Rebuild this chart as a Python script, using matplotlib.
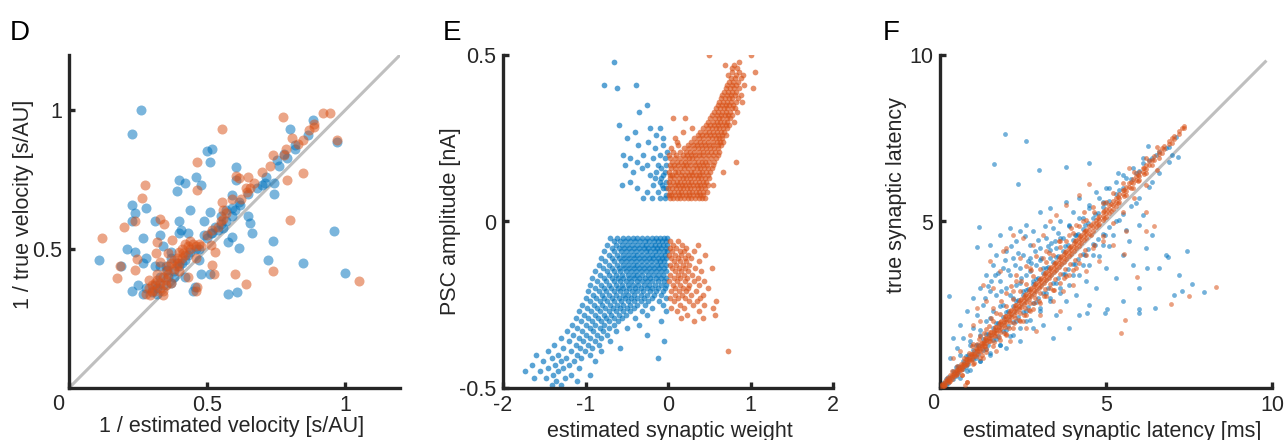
import numpy as np
import matplotlib
matplotlib.use('Agg')
import matplotlib.pyplot as plt

plt.rcParams['font.family'] = ['Liberation Sans', 'DejaVu Sans']

BLUE = '#0072BD'
ORANGE = '#D95319'
GREY = '#BFBFBF'
DARK = '#262626'

# ---- panel D : (1/estimated velocity, 1/true velocity)
d_blue = [
    (0.26, 1.00), (0.23, 0.915), (0.11, 0.46), (0.19, 0.44), (0.21, 0.50), (0.23, 0.66),
    (0.24, 0.63), (0.23, 0.60), (0.28, 0.65), (0.27, 0.54), (0.31, 0.60), (0.34, 0.51),
    (0.33, 0.55), (0.24, 0.49), (0.27, 0.45), (0.23, 0.35), (0.27, 0.34), (0.25, 0.37),
    (0.28, 0.47), (0.33, 0.44), (0.37, 0.49), (0.40, 0.56), (0.40, 0.60), (0.39, 0.71),
    (0.40, 0.75), (0.42, 0.74), (0.44, 0.64), (0.47, 0.46), (0.48, 0.73), (0.46, 0.76),
    (0.50, 0.855), (0.52, 0.86), (0.51, 0.815), (0.49, 0.60), (0.51, 0.635), (0.49, 0.55),
    (0.51, 0.41), (0.48, 0.41), (0.45, 0.35), (0.37, 0.38), (0.38, 0.40), (0.575, 0.34),
    (0.61, 0.345), (0.615, 0.505), (0.575, 0.525), (0.59, 0.545), (0.605, 0.795), (0.605, 0.75),
    (0.615, 0.67), (0.59, 0.695), (0.59, 0.65), (0.65, 0.62), (0.655, 0.595), (0.665, 0.56),
    (0.70, 0.73), (0.715, 0.76), (0.745, 0.74), (0.745, 0.70), (0.74, 0.53), (0.72, 0.46),
    (0.755, 0.82), (0.78, 0.845), (0.80, 0.935), (0.82, 0.875), (0.865, 0.91), (0.885, 0.965),
    (0.97, 0.885), (0.96, 0.565), (0.85, 0.45), (1.00, 0.415), (0.55, 0.62), (0.56, 0.575),
    (0.54, 0.57), (0.515, 0.56), (0.43, 0.56), (0.405, 0.57), (0.31, 0.44), (0.455, 0.365),
    (0.41, 0.45), (0.355, 0.425), (0.32, 0.34), (0.42, 0.40), (0.36, 0.40), (0.38, 0.42),
    (0.40, 0.44), (0.43, 0.48), (0.46, 0.50), (0.50, 0.54), (0.52, 0.56), (0.55, 0.59),
    (0.57, 0.60), (0.59, 0.62), (0.60, 0.64), (0.62, 0.66), (0.65, 0.70), (0.68, 0.72),
    (0.71, 0.74), (0.76, 0.80), (0.79, 0.83), (0.82, 0.86), (0.34, 0.37), (0.32, 0.36),
    (0.30, 0.345), (0.33, 0.40), (0.35, 0.44), (0.37, 0.47), (0.39, 0.45), (0.31, 0.37),
    (0.28, 0.36), (0.42, 0.46), (0.44, 0.49), (0.47, 0.50), (0.53, 0.58), (0.57, 0.64),
]
d_orange = [
    (0.12, 0.54), (0.175, 0.395), (0.185, 0.44), (0.20, 0.58), (0.24, 0.60), (0.265, 0.685),
    (0.275, 0.73), (0.24, 0.425), (0.245, 0.465), (0.32, 0.525), (0.33, 0.61), (0.345, 0.59),
    (0.315, 0.485), (0.33, 0.455), (0.465, 0.815), (0.465, 0.715), (0.46, 0.47), (0.465, 0.365),
    (0.555, 0.935), (0.555, 0.67), (0.56, 0.64), (0.605, 0.765), (0.615, 0.755), (0.65, 0.76),
    (0.655, 0.72), (0.625, 0.68), (0.645, 0.705), (0.74, 0.84), (0.73, 0.80), (0.775, 0.975),
    (0.785, 0.86), (0.79, 0.75), (0.80, 0.605), (0.81, 0.90), (0.85, 0.775), (0.85, 0.895),
    (0.89, 0.95), (0.92, 0.99), (0.945, 0.99), (0.97, 0.895), (1.05, 0.385), (0.74, 0.42),
    (0.64, 0.375), (0.60, 0.41), (0.52, 0.445), (0.525, 0.41), (0.53, 0.49), (0.515, 0.515),
    (0.375, 0.535), (0.36, 0.485), (0.415, 0.485), (0.43, 0.40), (0.46, 0.35), (0.34, 0.335),
    (0.295, 0.335), (0.29, 0.36), (0.30, 0.37), (0.31, 0.38), (0.30, 0.35), (0.32, 0.39),
    (0.33, 0.36), (0.31, 0.35), (0.32, 0.41), (0.34, 0.40), (0.35, 0.42), (0.36, 0.41),
    (0.36, 0.44), (0.37, 0.45), (0.38, 0.46), (0.39, 0.47), (0.40, 0.49), (0.41, 0.50),
    (0.42, 0.52), (0.43, 0.51), (0.44, 0.53), (0.45, 0.52), (0.46, 0.51), (0.47, 0.52),
    (0.48, 0.51), (0.42, 0.48), (0.40, 0.45), (0.38, 0.43), (0.33, 0.38), (0.34, 0.35),
    (0.29, 0.39), (0.35, 0.39), (0.39, 0.44), (0.44, 0.50), (0.41, 0.47), (0.52, 0.57),
    (0.54, 0.58), (0.55, 0.60), (0.56, 0.61), (0.50, 0.55), (0.57, 0.63), (0.59, 0.68),
    (0.64, 0.72), (0.67, 0.74), (0.70, 0.78), (0.78, 0.84), (0.83, 0.88), (0.87, 0.93),
    (0.89, 0.94), (0.37, 0.38), (0.40, 0.42), (0.28, 0.34), (0.35, 0.37),
]

# ---- panel E : rows of (PSC amplitude, [estimated weights])
e_orange_up_rows = [
    (0.07, [0.02, 0.06, 0.11, 0.15, 0.19, 0.24, 0.28, 0.33, 0.37, 0.41, 0.45]),
    (0.08, [0.01, 0.04, 0.09, 0.13, 0.17, 0.22, 0.26, 0.30, 0.35, 0.39, 0.43]),
    (0.09, [0.03, 0.07, 0.12, 0.16, 0.20, 0.25, 0.29, 0.34, 0.38, 0.42, 0.47]),
    (0.10, [0.00, 0.05, 0.10, 0.14, 0.18, 0.23, 0.27, 0.32, 0.36, 0.40, 0.45]),
    (0.11, [0.02, 0.08, 0.12, 0.17, 0.21, 0.26, 0.30, 0.35, 0.39, 0.44, 0.48]),
    (0.12, [0.01, 0.06, 0.11, 0.15, 0.19, 0.24, 0.28, 0.33, 0.37, 0.42, 0.46]),
    (0.13, [0.03, 0.07, 0.13, 0.18, 0.22, 0.27, 0.31, 0.36, 0.40, 0.45, 0.50]),
    (0.14, [0.02, 0.05, 0.10, 0.16, 0.20, 0.25, 0.29, 0.34, 0.38, 0.43, 0.48]),
    (0.15, [0.01, 0.08, 0.12, 0.17, 0.23, 0.28, 0.32, 0.37, 0.41, 0.46, 0.51]),
    (0.16, [0.04, 0.09, 0.14, 0.19, 0.24, 0.30, 0.35, 0.39, 0.44, 0.49, 0.53]),
    (0.17, [0.02, 0.07, 0.12, 0.18, 0.22, 0.27, 0.33, 0.38, 0.42, 0.47, 0.55]),
    (0.18, [0.05, 0.11, 0.16, 0.21, 0.26, 0.31, 0.36, 0.41, 0.45, 0.50, 0.56]),
    (0.19, [0.03, 0.09, 0.15, 0.20, 0.25, 0.29, 0.34, 0.40, 0.46, 0.52, 0.58]),
    (0.20, [0.01, 0.10, 0.18, 0.23, 0.28, 0.33, 0.38, 0.43, 0.48, 0.54, 0.60]),
    (0.21, [0.06, 0.14, 0.22, 0.27, 0.32, 0.37, 0.42, 0.47, 0.52, 0.57, 0.62]),
    (0.22, [0.04, 0.19, 0.26, 0.31, 0.36, 0.41, 0.46, 0.51, 0.56, 0.61]),
    (0.23, [0.12, 0.24, 0.30, 0.35, 0.40, 0.45, 0.50, 0.55, 0.60, 0.64]),
    (0.24, [0.28, 0.34, 0.39, 0.44, 0.49, 0.54, 0.59, 0.63, 0.67, 0.11]),
    (0.25, [0.09, 0.31, 0.38, 0.43, 0.48, 0.53, 0.58, 0.62, 0.66]),
    (0.26, [0.36, 0.41, 0.46, 0.51, 0.56, 0.61, 0.65, 0.70]),
    (0.27, [0.18, 0.39, 0.45, 0.50, 0.55, 0.59, 0.64, 0.68]),
    (0.28, [0.29, 0.43, 0.48, 0.53, 0.58, 0.62, 0.67, 0.71]),
    (0.29, [0.46, 0.51, 0.56, 0.61, 0.65, 0.70, 0.74]),
    (0.30, [0.48, 0.54, 0.59, 0.63, 0.68, 0.72, 0.80]),
    (0.31, [0.21, 0.06, 0.51, 0.57, 0.62, 0.66, 0.71, 0.75]),
    (0.32, [0.53, 0.59, 0.64, 0.69, 0.73, 0.78]),
    (0.33, [0.56, 0.61, 0.66, 0.70, 0.75, 0.84]),
    (0.34, [0.58, 0.63, 0.68, 0.72, 0.77, 0.81]),
    (0.35, [0.60, 0.65, 0.70, 0.74, 0.79]),
    (0.36, [0.62, 0.67, 0.72, 0.76, 0.82, 0.90]),
    (0.37, [0.64, 0.69, 0.74, 0.78, 0.85]),
    (0.38, [0.66, 0.71, 0.76, 0.81, 0.88]),
    (0.39, [0.68, 0.73, 0.78, 0.83]),
    (0.40, [0.70, 0.75, 0.80, 0.86, 1.03]),
    (0.41, [0.72, 0.77, 0.82, 0.92]),
    (0.42, [0.74, 0.79, 0.85]),
    (0.43, [0.76, 0.81, 0.88]),
    (0.44, [0.73, 0.83, 0.91]),
    (0.45, [0.78, 0.86, 1.05]),
    (0.46, [0.77, 0.84]),
    (0.47, [0.69, 0.80]),
    (0.48, [0.86]),
    (0.50, [0.50, 1.01]),
    (0.18, [0.83]),
    (0.15, [0.67]),
    (0.11, [0.55]),
]
e_blue_up = [
    (-0.65, 0.48), (-0.78, 0.41), (-0.62, 0.40), (-0.39, 0.41), (-0.26, 0.35), (-0.35, 0.33),
    (-0.60, 0.29), (-0.50, 0.25), (-0.40, 0.27), (-0.22, 0.28), (-0.10, 0.28), (-0.14, 0.26),
    (-0.06, 0.25), (-0.54, 0.20), (-0.46, 0.19), (-0.38, 0.18), (-0.30, 0.20), (-0.26, 0.17),
    (-0.18, 0.19), (-0.10, 0.20), (-0.04, 0.19), (-0.52, 0.17), (-0.42, 0.15), (-0.32, 0.16),
    (-0.22, 0.14), (-0.14, 0.15), (-0.06, 0.14), (-0.02, 0.12), (-0.10, 0.12), (-0.18, 0.11),
    (-0.26, 0.09), (-0.20, 0.07), (-0.12, 0.09), (-0.06, 0.10), (-0.04, 0.07), (-0.30, 0.07),
    (-0.38, 0.10), (-0.46, 0.12), (-0.56, 0.11), (-0.10, 0.07), (-0.02, 0.08), (-0.08, 0.16),
    (-0.02, 0.17), (-0.16, 0.22), (-0.24, 0.24), (-0.36, 0.23), (-0.06, 0.23), (-0.01, 0.21),
    (-0.08, 0.13), (-0.04, 0.15), (-0.12, 0.17), (-0.16, 0.13), (-0.03, 0.10), (-0.07, 0.11),
]
e_blue_low_rows = [
    (-0.05, [-0.70, -0.62, -0.55, -0.49, -0.43, -0.37, -0.31, -0.26, -0.20, -0.15, -0.10, -0.05, -0.01]),
    (-0.06, [-0.66, -0.58, -0.52, -0.46, -0.40, -0.34, -0.28, -0.23, -0.17, -0.12, -0.07, -0.02]),
    (-0.07, [-0.74, -0.63, -0.56, -0.50, -0.44, -0.38, -0.32, -0.27, -0.21, -0.16, -0.11, -0.06, -0.01]),
    (-0.08, [-0.68, -0.60, -0.53, -0.47, -0.41, -0.35, -0.29, -0.24, -0.18, -0.13, -0.08, -0.03]),
    (-0.09, [-0.78, -0.65, -0.57, -0.51, -0.45, -0.39, -0.33, -0.27, -0.22, -0.16, -0.11, -0.05, -0.01]),
    (-0.10, [-0.72, -0.62, -0.55, -0.49, -0.43, -0.37, -0.31, -0.25, -0.20, -0.14, -0.09, -0.04]),
    (-0.11, [-0.81, -0.68, -0.59, -0.53, -0.47, -0.41, -0.35, -0.29, -0.23, -0.18, -0.12, -0.07, -0.02]),
    (-0.12, [-0.76, -0.65, -0.57, -0.51, -0.45, -0.39, -0.33, -0.27, -0.21, -0.15, -0.10, -0.05]),
    (-0.13, [-0.84, -0.71, -0.62, -0.55, -0.49, -0.43, -0.37, -0.31, -0.25, -0.19, -0.13, -0.08, -0.02]),
    (-0.14, [-0.79, -0.68, -0.60, -0.53, -0.47, -0.41, -0.35, -0.29, -0.23, -0.17, -0.11, -0.05]),
    (-0.15, [-0.88, -0.74, -0.65, -0.58, -0.51, -0.45, -0.39, -0.33, -0.27, -0.21, -0.14, -0.08, -0.02]),
    (-0.16, [-0.83, -0.71, -0.63, -0.56, -0.49, -0.43, -0.37, -0.31, -0.24, -0.18, -0.12, -0.06]),
    (-0.17, [-0.92, -0.78, -0.68, -0.61, -0.54, -0.47, -0.41, -0.35, -0.28, -0.22, -0.15, -0.09, -0.03]),
    (-0.18, [-0.86, -0.75, -0.66, -0.58, -0.51, -0.45, -0.38, -0.32, -0.26, -0.19, -0.12, -0.05]),
    (-0.19, [-0.95, -0.81, -0.72, -0.63, -0.56, -0.49, -0.43, -0.36, -0.29, -0.23, -0.16, -0.09, -0.02]),
    (-0.20, [-0.89, -0.78, -0.69, -0.61, -0.54, -0.47, -0.40, -0.33, -0.26, -0.19, -0.12, -0.04]),
    (-0.21, [-0.97, -0.84, -0.75, -0.66, -0.58, -0.51, -0.44, -0.37, -0.30, -0.22, -0.14, -0.06]),
    (-0.22, [-0.91, -0.80, -0.71, -0.63, -0.55, -0.48, -0.41, -0.33, -0.25, -0.17, -0.08]),
    (-0.23, [-1.00, -0.87, -0.77, -0.68, -0.60, -0.52, -0.45, -0.37, -0.29, -0.20, -0.03]),
    (-0.24, [-0.94, -0.83, -0.74, -0.65, -0.57, -0.49, -0.41, -0.33, -0.24, -0.11]),
    (-0.25, [-1.04, -0.90, -0.80, -0.70, -0.62, -0.54, -0.46, -0.37, -0.28, -0.06]),
    (-0.26, [-0.98, -0.86, -0.76, -0.67, -0.58, -0.50, -0.41, -0.19]),
    (-0.27, [-1.08, -0.93, -0.82, -0.72, -0.63, -0.55, -0.46, -0.32, -0.02]),
    (-0.28, [-1.02, -0.89, -0.78, -0.69, -0.60, -0.51, -0.25]),
    (-0.29, [-1.12, -0.97, -0.85, -0.75, -0.65, -0.56, -0.40]),
    (-0.30, [-1.06, -0.92, -0.81, -0.71, -0.61, -0.08]),
    (-0.31, [-1.16, -1.00, -0.88, -0.77, -0.66, -0.35]),
    (-0.32, [-1.10, -0.95, -0.83, -0.72, -0.50]),
    (-0.33, [-1.22, -1.04, -0.91, -0.79, -0.63]),
    (-0.34, [-1.15, -0.99, -0.86, -0.74, -0.25]),
    (-0.35, [-1.30, -1.08, -0.94, -0.81]),
    (-0.36, [-1.20, -1.03, -0.89, -0.70, -0.05]),
    (-0.37, [-1.38, -1.12, -0.97, -0.84]),
    (-0.38, [-1.27, -1.07, -0.92, -0.58]),
    (-0.39, [-1.45, -1.18, -1.01, -0.81]),
    (-0.40, [-1.60, -1.33, -1.10, -0.95]),
    (-0.41, [-1.41, -1.24, -1.05, -0.12]),
    (-0.42, [-1.52, -1.30, -1.14, -0.89]),
    (-0.43, [-1.65, -1.37, -1.20]),
    (-0.44, [-1.46, -1.27, -1.08]),
    (-0.45, [-1.73, -1.55, -1.33]),
    (-0.46, [-1.40, -1.17, -0.95]),
    (-0.47, [-1.62, -1.48, -1.25]),
    (-0.48, [-1.36, -1.10]),
    (-0.49, [-1.41, -1.30]),
]
e_orange_low_rows = [
    (-0.06, [0.03, 0.12]),
    (-0.07, [0.06, 0.17, 0.36]),
    (-0.08, [0.02, 0.10, 0.22]),
    (-0.09, [0.05, 0.14, 0.19, 0.31]),
    (-0.10, [0.01, 0.08, 0.16, 0.24, 0.45]),
    (-0.11, [0.04, 0.12, 0.20, 0.28]),
    (-0.12, [0.07, 0.15, 0.22, 0.37]),
    (-0.13, [0.02, 0.10, 0.18, 0.26]),
    (-0.14, [0.05, 0.13, 0.21, 0.33, 0.53]),
    (-0.15, [0.09, 0.16, 0.24, 0.40]),
    (-0.16, [0.03, 0.12, 0.19, 0.29]),
    (-0.17, [0.07, 0.15, 0.23, 0.36]),
    (-0.18, [0.01, 0.11, 0.20, 0.31, 0.44]),
    (-0.19, [0.06, 0.14, 0.26, 0.38]),
    (-0.20, [0.09, 0.18, 0.24, 0.49]),
    (-0.21, [0.04, 0.13, 0.22, 0.34]),
    (-0.22, [0.08, 0.17, 0.28, 0.42]),
    (-0.23, [0.02, 0.12, 0.21, 0.39]),
    (-0.24, [0.07, 0.26, 0.35, 0.58]),
    (-0.25, [0.15, 0.30, 0.44]),
    (-0.26, [0.04, 0.19, 0.55]),
    (-0.27, [0.11, 0.37]),
    (-0.28, [0.23, 0.57]),
    (-0.29, [0.16, 0.43]),
    (-0.30, [0.32]),
    (-0.39, [0.73]),
]

# ---- panel F : columns of (estimated latency, [true latencies]) + scattered points
f_orange_cols = [
    (0.05, [0.03, 0.08, 0.12]), (0.12, [0.10, 0.16, 0.05]), (0.20, [0.17, 0.24, 0.30]),
    (0.28, [0.25, 0.31, 0.19]), (0.35, [0.33, 0.40, 0.28, 0.52]), (0.43, [0.41, 0.47, 0.36]),
    (0.50, [0.49, 0.55, 0.43, 0.66]), (0.58, [0.56, 0.62, 0.51]), (0.65, [0.64, 0.70, 0.58, 0.38]),
    (0.72, [0.71, 0.78, 0.65, 0.90]), (0.80, [0.79, 0.86, 0.73, 0.18]), (0.88, [0.87, 0.94, 0.80, 1.05]),
    (0.95, [0.95, 1.02, 0.88, 1.25]), (1.03, [1.03, 1.10, 0.96, 0.75]), (1.10, [1.10, 1.18, 1.03, 1.32]),
    (1.18, [1.19, 1.26, 1.11, 1.48]), (1.25, [1.27, 1.34, 1.19, 0.98]), (1.33, [1.35, 1.42, 1.27, 1.65]),
    (1.40, [1.43, 1.50, 1.34, 1.18]), (1.48, [1.51, 1.58, 1.42, 1.86]), (1.55, [1.59, 1.67, 1.50, 2.10]),
    (1.63, [1.67, 1.75, 1.58, 1.38]), (1.70, [1.75, 1.83, 1.66, 2.25]), (1.78, [1.83, 1.92, 1.74, 1.52]),
    (1.85, [1.91, 2.00, 1.81, 2.60]), (1.93, [1.99, 2.08, 1.89, 1.65]), (2.00, [2.07, 2.16, 1.97, 2.85]),
    (2.08, [2.15, 2.25, 2.05, 1.80]), (2.15, [2.23, 2.33, 2.12, 3.05]), (2.23, [2.31, 2.41, 2.20, 1.95]),
    (2.30, [2.39, 2.50, 2.28, 3.40]), (2.38, [2.47, 2.58, 2.36, 2.05]), (2.45, [2.55, 2.66, 2.44, 3.20]),
    (2.53, [2.63, 2.74, 2.51, 2.20]), (2.60, [2.71, 2.83, 2.59, 3.65]), (2.68, [2.79, 2.91, 2.67, 2.35]),
    (2.75, [2.87, 2.99, 2.75, 3.55]), (2.83, [2.95, 3.07, 2.83, 2.55]), (2.90, [3.03, 3.15, 2.91, 3.95]),
    (2.98, [3.11, 3.23, 2.99, 2.60]), (3.05, [3.19, 3.31, 3.07]), (3.13, [3.27, 3.39, 3.15, 2.75]),
    (3.20, [3.35, 3.47, 3.23]), (3.28, [3.43, 3.55, 3.31, 4.05]), (3.35, [3.51, 3.63, 3.39]),
    (3.43, [3.59, 3.71, 3.47, 2.95]), (3.50, [3.67, 3.79, 3.55]), (3.58, [3.75, 3.87, 3.63, 4.40]),
    (3.65, [3.83, 3.95, 3.71]), (3.73, [3.91, 4.03, 3.79, 3.30]), (3.80, [3.99, 4.11, 3.87]),
    (3.88, [4.07, 4.19, 3.95]), (3.95, [4.15, 4.27, 4.03, 4.80]), (4.03, [4.23, 4.35, 4.11]),
    (4.10, [4.31, 4.43, 4.19, 3.60]), (4.18, [4.39, 4.51, 4.27]), (4.25, [4.47, 4.59, 4.35]),
    (4.33, [4.55, 4.67, 4.43, 5.30]), (4.40, [4.63, 4.75, 4.51]), (4.50, [4.73, 4.85, 4.62]),
    (4.60, [4.84, 4.96, 4.72, 5.45]), (4.70, [4.94, 5.06, 4.83]), (4.80, [5.05, 5.17, 4.93]),
    (4.90, [5.16, 5.28, 5.04]), (5.00, [5.27, 5.39, 5.15, 5.60]), (5.10, [5.38, 5.50, 5.26]),
    (5.20, [5.49, 5.61, 5.37]), (5.30, [5.60, 5.72, 5.48]), (5.40, [5.71, 5.83, 5.59]),
    (5.50, [5.82, 5.94]), (5.60, [5.93, 6.05, 5.80]), (5.70, [6.04, 6.16]),
    (5.80, [6.15, 6.27, 6.02]), (5.90, [6.26, 6.38]), (6.00, [6.37, 6.49, 6.25]),
    (6.10, [6.48, 6.60]), (6.20, [6.59, 6.71, 6.46]), (6.30, [6.70, 6.82]),
    (6.45, [6.86, 6.98]), (6.60, [7.02, 7.12, 6.90]), (6.75, [7.18, 7.28]),
    (6.90, [7.33, 7.42]), (7.05, [7.48, 7.56]), (7.20, [7.64, 7.72]), (7.35, [7.80, 7.88]),
    # second pass over the band, between the columns above
    (0.16, [0.22, 0.09]), (0.31, [0.38, 0.22]), (0.47, [0.55, 0.39]), (0.62, [0.71, 0.53]),
    (0.77, [0.87, 0.68]), (0.92, [1.03, 0.83]), (1.07, [1.19, 0.97]), (1.22, [1.35, 1.12]),
    (1.37, [1.51, 1.26]), (1.52, [1.67, 1.40]), (1.67, [1.83, 1.55]), (1.82, [1.99, 1.69]),
    (1.97, [2.15, 1.83]), (2.12, [2.32, 1.97]), (2.27, [2.48, 2.11]), (2.42, [2.64, 2.26]),
    (2.57, [2.80, 2.40]), (2.72, [2.96, 2.55]), (2.87, [3.12, 2.69]), (3.02, [3.28, 2.84]),
    (3.17, [3.44, 2.98]), (3.32, [3.60, 3.13]), (3.47, [3.76, 3.27]), (3.62, [3.92, 3.42]),
    (3.77, [4.08, 3.56]), (3.92, [4.24, 3.71]), (4.07, [4.40, 3.85]), (4.22, [4.56, 4.00]),
    (4.37, [4.72, 4.15]), (4.55, [4.90, 4.60]), (4.75, [5.10, 4.90]), (4.95, [5.32, 5.10]),
    (5.15, [5.52, 5.33]), (5.35, [5.74, 5.55]), (5.55, [5.95, 5.78]), (5.75, [6.18, 6.00]),
    (5.95, [6.40, 6.22]), (6.15, [6.62, 6.44]), (6.38, [6.86, 6.70]), (6.68, [7.20, 7.05]),
    (6.98, [7.50, 7.36]), (7.28, [7.82]),
    # outer edge of the band
    (1.00, [1.32, 0.72]), (1.20, [1.55, 0.90]), (1.40, [1.78, 1.08]), (1.60, [2.00, 1.25]),
    (1.80, [2.22, 1.45]), (2.00, [2.45, 1.62]), (2.20, [2.68, 1.80]), (2.40, [2.90, 2.00]),
    (2.60, [3.12, 2.18]), (2.80, [3.35, 2.38]), (3.00, [3.56, 2.56]), (3.20, [3.78, 2.76]),
    (3.40, [4.00, 2.95]), (3.60, [4.22, 3.15]), (3.80, [4.42, 3.35]), (4.00, [4.64, 3.55]),
    (4.20, [4.85, 3.76]), (4.40, [5.05, 3.98]), (4.65, [5.30, 4.28]), (4.90, [5.55, 4.55]),
    (5.20, [5.85, 4.95]), (5.50, [6.15, 5.30]), (5.85, [6.50, 5.70]), (6.20, [6.90, 6.10]),
    (6.55, [7.25, 6.55]),
]
f_orange_pts = [
    (8.30, 3.02), (7.50, 2.77), (6.96, 2.52), (5.46, 1.66), (5.58, 2.03), (6.44, 4.85),
    (6.19, 4.72), (5.94, 3.34), (5.53, 4.03), (4.48, 6.13), (0.80, 0.18), (0.65, 0.38),
    (0.75, 0.08), (1.2, 2.0), (1.4, 2.6), (1.6, 3.0), (1.8, 3.5), (2.0, 4.2), (2.2, 4.6),
    (2.5, 4.5), (1.5, 3.8), (1.9, 4.1), (2.4, 3.9), (2.8, 4.3), (3.1, 4.6), (3.3, 5.0),
    (3.5, 5.2), (3.8, 5.5), (4.2, 5.8), (2.6, 1.8), (3.0, 2.2), (3.4, 2.6), (3.7, 2.9),
    (4.0, 3.1), (4.4, 3.5), (4.8, 3.8), (2.9, 1.7), (3.6, 2.3), (0.9, 1.6), (1.1, 2.4),
    (0.6, 1.1), (1.3, 3.1), (2.3, 3.2), (2.7, 3.6), (3.2, 4.1), (3.9, 4.6), (4.3, 5.0),
    (1.7, 1.1), (2.1, 1.4), (2.5, 2.0), (3.3, 3.0), (4.6, 4.2), (5.2, 4.3), (5.6, 4.7),
    (6.2, 5.3), (1.0, 1.9), (1.6, 2.4), (2.2, 2.9), (3.1, 3.9), (3.6, 4.4), (4.1, 4.9),
    (2.0, 1.6), (2.7, 2.3), (3.9, 3.4), (4.9, 4.4), (1.3, 0.9), (0.4, 0.9), (5.7, 6.6),
]
f_blue_cols = [
    (0.10, [0.15, 0.02]), (0.25, [0.33, 0.14]), (0.40, [0.50, 0.28]), (0.55, [0.66, 0.44]),
    (0.70, [0.82, 0.58]), (0.85, [0.98, 0.72]), (1.00, [1.14, 0.87]), (1.15, [1.30, 1.01]),
    (1.30, [1.47, 1.15]), (1.45, [1.63, 1.29]), (1.60, [1.80, 1.43]), (1.75, [1.96, 1.57]),
    (1.90, [2.13, 1.71]), (2.05, [2.30, 1.85]), (2.20, [2.46, 1.99]), (2.35, [2.63, 2.13]),
    (2.50, [2.80, 2.27]), (2.65, [2.96, 2.42]), (2.80, [3.13, 2.56]), (2.95, [3.30, 2.70]),
    (3.10, [3.46, 2.85]), (3.25, [3.62, 3.00]), (3.40, [3.79, 3.14]), (3.55, [3.95, 3.29]),
    (3.70, [4.12, 3.43]), (3.85, [4.28, 3.58]), (4.00, [4.45, 3.73]), (4.15, [4.61, 3.88]),
    (4.30, [4.78, 4.02]), (4.45, [4.94, 4.17]), (4.60, [5.11, 4.32]), (4.75, [5.27, 4.47]),
    (4.90, [5.44, 4.62]), (5.10, [5.63, 4.82]), (5.30, [5.83, 5.02]), (5.50, [6.02, 5.22]),
    (5.75, [6.28, 5.47]), (6.00, [6.52, 5.70]), (6.30, [6.85, 6.05]), (6.60, [7.10, 6.45]),
    (0.18, [0.26, 0.08]), (0.48, [0.62, 0.35]), (0.78, [0.95, 0.62]), (1.08, [1.28, 0.90]),
    (1.38, [1.62, 1.18]), (1.68, [1.95, 1.46]), (1.98, [2.28, 1.74]), (2.28, [2.60, 2.02]),
    (2.58, [2.95, 2.30]), (2.88, [3.27, 2.58]), (3.18, [3.60, 2.86]), (3.48, [3.92, 3.15]),
    (3.78, [4.25, 3.43]), (4.08, [4.58, 3.72]), (4.38, [4.90, 4.00]), (4.68, [5.22, 4.30]),
    (4.98, [5.55, 4.60]), (5.40, [5.95, 5.05]), (5.90, [6.45, 5.55]), (6.40, [6.90, 6.20]),
    (6.90, [7.25, 6.80]), (7.10, [7.55]),
    (0.60, [1.00, 0.30]), (0.90, [1.40, 0.55]), (1.20, [1.75, 0.80]), (1.50, [2.10, 1.05]),
    (1.80, [2.45, 1.30]), (2.10, [2.80, 1.55]), (2.40, [3.15, 1.80]), (2.70, [3.50, 2.05]),
    (3.00, [3.85, 2.30]), (3.30, [4.15, 2.60]), (3.60, [4.50, 2.85]), (3.90, [4.85, 3.10]),
    (4.20, [5.10, 3.40]), (4.50, [5.40, 3.70]), (4.80, [5.70, 3.95]), (5.10, [6.00, 4.25]),
    (5.60, [6.30, 4.75]), (6.10, [6.75, 5.20]),
]
f_blue_pts = [
    (1.96, 7.62), (2.59, 7.41), (1.63, 6.73), (2.99, 6.55), (3.80, 6.63), (2.34, 6.14),
    (4.48, 6.75), (5.35, 6.45), (6.26, 7.27), (7.16, 6.95), (7.44, 4.11), (7.60, 3.12),
    (7.95, 2.88), (7.04, 2.78), (7.29, 2.92), (6.86, 3.93), (6.49, 2.40), (5.99, 2.25),
    (5.99, 2.37), (6.24, 3.59), (4.98, 2.25), (5.03, 2.38), (4.43, 2.25), (1.11, 4.23),
    (1.16, 4.84), (0.28, 2.77),
    (0.3, 0.9), (0.4, 1.5), (0.5, 1.2), (0.6, 1.9), (0.7, 1.5), (0.8, 2.3), (0.9, 1.3),
    (1.0, 2.7), (1.0, 1.8), (1.1, 2.2), (1.2, 3.0), (1.2, 1.6), (1.3, 2.5), (1.4, 3.4),
    (1.4, 2.0), (1.5, 2.9), (1.5, 4.3), (1.6, 3.7), (1.6, 2.3), (1.7, 4.0), (1.7, 2.8),
    (1.8, 3.2), (1.8, 4.6), (1.9, 3.6), (1.9, 2.5), (2.0, 4.1), (2.0, 3.0), (2.1, 4.8),
    (2.1, 3.4), (2.2, 2.7), (2.2, 3.9), (2.3, 4.4), (2.3, 3.1), (2.4, 4.7), (2.4, 3.6),
    (2.5, 4.0), (2.5, 2.9), (2.6, 4.9), (2.6, 3.4), (2.7, 4.3), (2.7, 3.9), (2.8, 3.2),
    (2.8, 4.7), (2.9, 3.7), (3.0, 4.2), (3.0, 5.3), (3.1, 3.6), (3.2, 4.5), (3.3, 5.4),
    (3.3, 3.9), (3.4, 4.8), (3.5, 4.2), (3.6, 5.0), (3.7, 4.5), (3.8, 5.6), (3.9, 4.9),
    (4.0, 5.3), (4.1, 4.6), (4.2, 5.7), (4.3, 5.1), (4.5, 5.5), (4.7, 5.9), (4.9, 5.6),
    (5.0, 6.0), (5.3, 6.2), (5.5, 6.4), (5.8, 6.6), (6.1, 6.9), (6.5, 7.0), (6.8, 7.2),
    (7.0, 7.0), (0.8, 0.5), (1.2, 0.8), (1.5, 1.0), (1.8, 1.3), (2.0, 1.2), (2.2, 1.6),
    (2.4, 1.4), (2.6, 2.0), (2.8, 1.8), (3.0, 2.4), (3.1, 1.9), (3.3, 2.7), (3.5, 2.2),
    (3.6, 3.0), (3.8, 2.6), (4.0, 3.4), (4.1, 2.8), (4.3, 3.7), (4.4, 3.2), (4.6, 4.0),
    (4.7, 3.0), (4.9, 4.3), (5.0, 3.6), (5.2, 4.6), (5.3, 3.3), (5.5, 4.0), (5.7, 4.4),
    (5.8, 3.7), (6.0, 4.9), (6.2, 4.2), (6.4, 4.6), (6.6, 3.6), (6.8, 4.0), (7.2, 3.4),
    (5.5, 2.6), (6.0, 3.0), (4.5, 2.5), (4.2, 2.2), (3.9, 1.8), (3.4, 1.5),
    (1.55, 3.2), (1.75, 3.45), (1.95, 3.85), (2.15, 4.25), (2.35, 4.05), (2.55, 4.55),
    (2.75, 3.75), (2.95, 4.45), (3.15, 4.85), (3.35, 4.35), (3.55, 4.65), (1.85, 2.9),
    (2.05, 3.55), (2.25, 3.7), (2.45, 3.3), (2.65, 3.8), (2.85, 4.1), (3.05, 3.9),
    (3.25, 4.25), (3.45, 4.4), (1.35, 2.7), (1.45, 3.05), (1.65, 3.4),
]


def pairs(p):
    a = np.array(p, dtype=float)
    return a[:, 0], a[:, 1]


def rows_to_xy(rows):
    # rows are (y, [x, ...])
    xs, ys = [], []
    for y, row in rows:
        xs += row
        ys += [y] * len(row)
    return np.array(xs), np.array(ys)


def cols_to_xy(cols):
    # cols are (x, [y, ...])
    xs, ys = [], []
    for x, col in cols:
        xs += [x] * len(col)
        ys += col
    return np.array(xs), np.array(ys)


def style(ax):
    for s in ['top', 'right']:
        ax.spines[s].set_visible(False)
    for s in ['left', 'bottom']:
        ax.spines[s].set_linewidth(2.4)
        ax.spines[s].set_color(DARK)
        ax.spines[s].set_capstyle('projecting')
    ax.tick_params(direction='in', length=4, width=2.4, colors=DARK,
                   labelsize=15.5, pad=5)


fig = plt.figure(figsize=(12.87, 4.4), dpi=100)
W, H = 1287.0, 440.0
bot = (H - 388) / H
hgt = 333 / H

# ---- D
axd = fig.add_axes([69 / W, bot, 331 / W, hgt])
axd.plot([0, 1.2], [0, 1.2], color=GREY, lw=2.2, zorder=1)
x, y = pairs(d_blue)
axd.scatter(x, y, s=52, color=BLUE, alpha=0.52, lw=0, zorder=2)
x, y = pairs(d_orange)
axd.scatter(x, y, s=52, color=ORANGE, alpha=0.52, lw=0, zorder=3)
axd.set_xlim(0, 1.2)
axd.set_ylim(0, 1.2)
axd.set_xticks([0, 0.5, 1])
axd.set_xticklabels(['', '0.5', '1'])
axd.set_yticks([0.5, 1])
axd.set_yticklabels(['0.5', '1'])
style(axd)
axd.annotate('0', xy=(0, 0), xytext=(-8, -12), textcoords='offset points',
             ha='center', va='center', fontsize=15.5, color=DARK)
axd.set_xlabel('1 / estimated velocity [s/AU]', fontsize=15.5, color=DARK)
axd.set_ylabel('1 / true velocity [s/AU]', fontsize=15.5, color=DARK)
axd.xaxis.set_label_coords(0.49, -0.085)
axd.yaxis.set_label_coords(-0.105, 0.55)

# ---- E
axe = fig.add_axes([503 / W, bot, 330 / W, hgt])
x, y = rows_to_xy(e_blue_low_rows)
axe.scatter(x, y, s=17, color=BLUE, alpha=0.65, lw=0)
x, y = pairs(e_blue_up)
axe.scatter(x, y, s=17, color=BLUE, alpha=0.65, lw=0)
x, y = rows_to_xy(e_orange_up_rows)
axe.scatter(x, y, s=17, color=ORANGE, alpha=0.65, lw=0)
x, y = rows_to_xy(e_orange_low_rows)
axe.scatter(x, y, s=17, color=ORANGE, alpha=0.65, lw=0)
axe.set_xlim(-2, 2)
axe.set_ylim(-0.5, 0.5)
axe.set_xticks([-2, -1, 0, 1, 2])
axe.set_yticks([-0.5, 0, 0.5])
axe.set_yticklabels(['-0.5', '0', '0.5'])
axe.set_xticklabels(['-2', '-1', '0', '1', '2'])
style(axe)
axe.set_xlabel('estimated synaptic weight', fontsize=15.5, color=DARK)
axe.set_ylabel('PSC amplitude [nA]', fontsize=15.5, color=DARK)
axe.xaxis.set_label_coords(0.505, -0.1)
axe.yaxis.set_label_coords(-0.128, 0.5)

# ---- F
axf = fig.add_axes([940 / W, bot, 332 / W, hgt])
axf.plot([0, 9.8], [0, 9.8], color=GREY, lw=2.2, zorder=1)
x, y = cols_to_xy(f_blue_cols)
axf.scatter(x, y, s=12, color=BLUE, alpha=0.55, lw=0, zorder=2)
x, y = pairs(f_blue_pts)
axf.scatter(x, y, s=12, color=BLUE, alpha=0.55, lw=0, zorder=2)
x, y = cols_to_xy(f_orange_cols)
axf.scatter(x, y, s=12, color=ORANGE, alpha=0.6, lw=0, zorder=3)
x, y = pairs(f_orange_pts)
axf.scatter(x, y, s=12, color=ORANGE, alpha=0.55, lw=0, zorder=3)
axf.set_xlim(0, 10)
axf.set_ylim(0, 10)
axf.set_xticks([0, 5, 10])
axf.set_xticklabels(['', '5', '10'])
axf.set_yticks([5, 10])
axf.set_yticklabels(['5', '10'])
style(axf)
axf.annotate('0', xy=(0, 0), xytext=(-5, -11), textcoords='offset points',
             ha='center', va='center', fontsize=15.5, color=DARK)
axf.set_xlabel('estimated synaptic latency [ms]', fontsize=15.5, color=DARK)
axf.set_ylabel('true synaptic latency', fontsize=15.5, color=DARK)
axf.xaxis.set_label_coords(0.52, -0.1)
axf.yaxis.set_label_coords(-0.1, 0.58)

# panel letters
for px, letter in [(10, 'D'), (443, 'E'), (883, 'F')]:
    fig.text(px / W, 1 - 40 / H, letter, fontsize=20, color='black', va='baseline')

fig.savefig('out.png', dpi=100)
